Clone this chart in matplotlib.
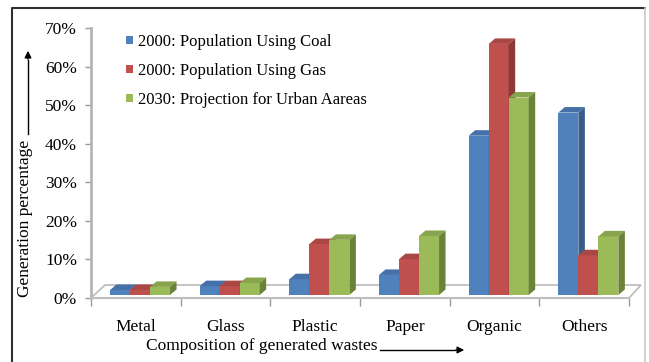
import numpy as np
import matplotlib.pyplot as plt
from matplotlib.patches import Polygon, Patch
from matplotlib.lines import Line2D

# Donnees (%)
categories = ["Metal", "Glass", "Plastic", "Paper", "Organic", "Others"]
coal = [1.3, 2.3, 4.1, 5.2, 41.3, 47.3]
gas = [1.3, 2.3, 13.2, 9.3, 65.1, 10.3]
urban = [2.1, 3.1, 14.3, 15.3, 51.2, 15.2]
series_names = ["2000: Population Using Coal",
                "2000: Population Using Gas",
                "2030: Projection for Urban Aareas"]
yticks = [0, 10, 20, 30, 40, 50, 60, 70]

front_cols = ['#4F81BD', '#C0504D', '#9BBB59']
top_cols = ['#4571A8', '#AA4744', '#88A54E']
side_cols = ['#385D8A', '#8B3A38', '#6A8338']

plt.rcParams['font.family'] = ['Liberation Serif', 'DejaVu Serif']

W, H = 649, 362
fx = lambda px: px / W
fy = lambda py: 1 - py / H

fig = plt.figure(figsize=(W / 100, H / 100), dpi=100)
ax = fig.add_axes([fx(91), 64 / H, 538 / W, 270 / H])
ax.set_xlim(-0.5, 5.5)
ax.set_ylim(0, 70)

ux = 6 / 538   # unites x par pixel
uy = 70 / 270  # unites y par pixel

# sol en perspective
floor = Polygon([(-0.5, 0), (5.5, 0), (5.5 + 12 * ux, 13 * uy), (-0.5 + 14 * ux, 13 * uy)],
                closed=True, facecolor='white', edgecolor='#BFBFBF', lw=1.3,
                clip_on=False, zorder=1)
ax.add_patch(floor)

# barres pseudo 3D
base = 3 * uy
bw = 20 * ux
ddx, ddy = 6.5 * ux, 5.5 * uy
x = np.arange(len(categories))
for i, vals in enumerate([coal, gas, urban]):
    x0 = x + (-25.8 + 20 * i) * ux
    ax.bar(x0, vals, width=bw, bottom=base, align='edge', color=front_cols[i],
           zorder=3 + i, clip_on=False)
    for xl, v in zip(x0, vals):
        t = base + v
        top = Polygon([(xl, t), (xl + bw, t), (xl + bw + ddx, t + ddy), (xl + ddx, t + ddy)],
                      closed=True, facecolor=top_cols[i], edgecolor='none',
                      zorder=3 + i, clip_on=False)
        side = Polygon([(xl + bw, base), (xl + bw + ddx, base + ddy),
                        (xl + bw + ddx, t + ddy), (xl + bw, t)],
                       closed=True, facecolor=side_cols[i], edgecolor='none',
                       zorder=3 + i, clip_on=False)
        ax.add_patch(top)
        ax.add_patch(side)

# axes
for s in ['top', 'right']:
    ax.spines[s].set_visible(False)
ax.spines['left'].set_color('#B5B5B5')
ax.spines['left'].set_linewidth(2)
ax.spines['bottom'].set_color('#BFBFBF')
ax.spines['bottom'].set_linewidth(1.5)
ax.set_yticks(yticks)
ax.set_yticklabels([str(v) + '%' for v in yticks], fontsize=12.5)
ax.tick_params(axis='y', length=4, width=1, color='#9A9A9A', pad=6)
ax.set_xticks(x)
ax.set_xticklabels(categories, fontsize=12.5)
ax.set_xticks(np.arange(-0.5, 6, 1), minor=True)
ax.tick_params(axis='x', which='major', length=0, pad=15)
ax.tick_params(axis='x', which='minor', length=6, width=1, color='#9A9A9A')
ax.patch.set_alpha(0)

# legende
handles = [Patch(facecolor=c, edgecolor='none') for c in front_cols]
fig.legend(handles, series_names, loc='upper left',
           bbox_to_anchor=(fx(126), fy(34)), frameon=False, fontsize=12,
           handlelength=0.42, handleheight=0.42, handletextpad=0.3,
           labelspacing=0.78, borderpad=0, borderaxespad=0)

# titres des axes avec fleches
fig.text(fx(25), fy(218), "Generation percentage", rotation=90, fontsize=12.5,
         ha='center', va='center')
fig.add_artist(Line2D([fx(28), fx(28)], [fy(134), fy(60)], transform=fig.transFigure,
                      color='black', lw=1))
ax.annotate('', xy=(fx(28), fy(48)), xytext=(fx(28), fy(62)), xycoords='figure fraction',
            arrowprops=dict(arrowstyle='-|>', color='black', lw=1, mutation_scale=10))

fig.text(fx(146), fy(346), "Composition of generated wastes", fontsize=12.5,
         ha='left', va='center')
fig.add_artist(Line2D([fx(380), fx(455)], [fy(350), fy(350)], transform=fig.transFigure,
                      color='black', lw=1))
ax.annotate('', xy=(fx(467), fy(350)), xytext=(fx(453), fy(350)), xycoords='figure fraction',
            arrowprops=dict(arrowstyle='-|>', color='black', lw=1, mutation_scale=10))

# cadre
fig.add_artist(Line2D([fx(12), fx(12), fx(645)], [0, fy(8), fy(8)], transform=fig.transFigure,
                      color='#303030', lw=1.5))
fig.add_artist(Line2D([fx(645), fx(645)], [fy(8), 0], transform=fig.transFigure,
                      color='#C8C8C8', lw=1.2))

fig.savefig('out.png', dpi=100)
